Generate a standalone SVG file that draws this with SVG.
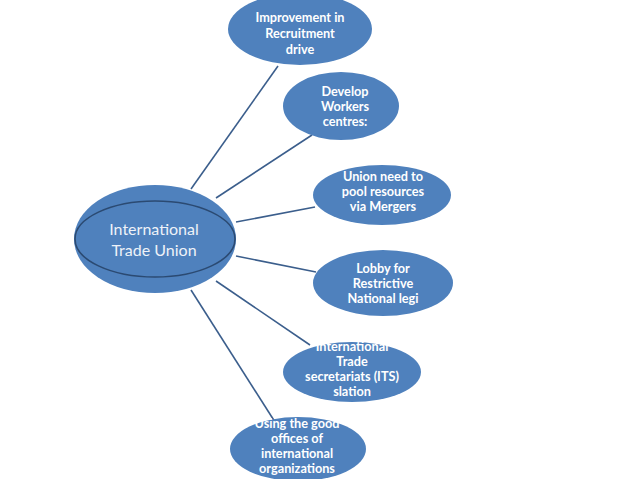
<svg xmlns="http://www.w3.org/2000/svg" width="638" height="479" viewBox="0 0 638 479">
<style>
.n{fill:#4f81bd}
.c line{stroke:#3b5e8c;stroke-width:1.6}
.t{font-family:Lato,"Open Sans","Liberation Sans",sans-serif;font-weight:bold;font-size:12.7px;fill:#ffffff;text-anchor:middle}
.m{font-family:Lato,"Open Sans","Liberation Sans",sans-serif;font-size:16px;fill:#eef2f8;text-anchor:middle}
</style>
<rect width="638" height="479" fill="#ffffff"/>
<g class="c" id="connectors">
<line x1="191" y1="189" x2="278" y2="66"/>
<line x1="216" y1="198" x2="312" y2="135"/>
<line x1="236" y1="222" x2="315" y2="207"/>
<line x1="236" y1="256" x2="316" y2="272"/>
<line x1="216" y1="281" x2="310" y2="345"/>
<line x1="191" y1="290" x2="275" y2="422"/>
</g>
<g id="center">
<ellipse class="n" cx="155" cy="239" rx="81" ry="54"/>
<ellipse cx="155" cy="239" rx="80" ry="38" fill="none" stroke="#2b4a72" stroke-width="1.6"/>
<text class="m" x="154" y="235">International</text>
<text class="m" x="154" y="256">Trade Union</text>
</g>
<g id="n1">
<ellipse class="n" cx="300" cy="29" rx="72" ry="36"/>
<text class="t" x="300" y="22">Improvement in</text>
<text class="t" x="300" y="38">Recruitment</text>
<text class="t" x="300" y="54">drive</text>
</g>
<g id="n2">
<ellipse class="n" cx="341" cy="106" rx="58" ry="34"/>
<text class="t" x="345" y="96">Develop</text>
<text class="t" x="345" y="111">Workers</text>
<text class="t" x="345" y="126">centres:</text>
</g>
<g id="n3">
<ellipse class="n" cx="382" cy="195" rx="69" ry="30"/>
<text class="t" x="383" y="181">Union need to</text>
<text class="t" x="383" y="196">pool resources</text>
<text class="t" x="383" y="211">via Mergers</text>
</g>
<g id="n4">
<ellipse class="n" cx="383" cy="283" rx="70" ry="33"/>
<text class="t" x="383" y="273">Lobby for</text>
<text class="t" x="383" y="288">Restrictive</text>
<text class="t" x="383" y="303">National legi</text>
</g>
<g id="n5">
<ellipse class="n" cx="352" cy="372" rx="69" ry="30"/>
<text class="t" x="352" y="351">International</text>
<text class="t" x="352" y="366">Trade</text>
<text class="t" x="352" y="381">secretariats (ITS)</text>
<text class="t" x="352" y="396">slation</text>
</g>
<g id="n6">
<ellipse class="n" cx="298" cy="449" rx="68" ry="32"/>
<text class="t" x="297" y="428">Using the good</text>
<text class="t" x="297" y="443">offices of</text>
<text class="t" x="297" y="458">international</text>
<text class="t" x="297" y="473">organizations</text>
</g>
</svg>
